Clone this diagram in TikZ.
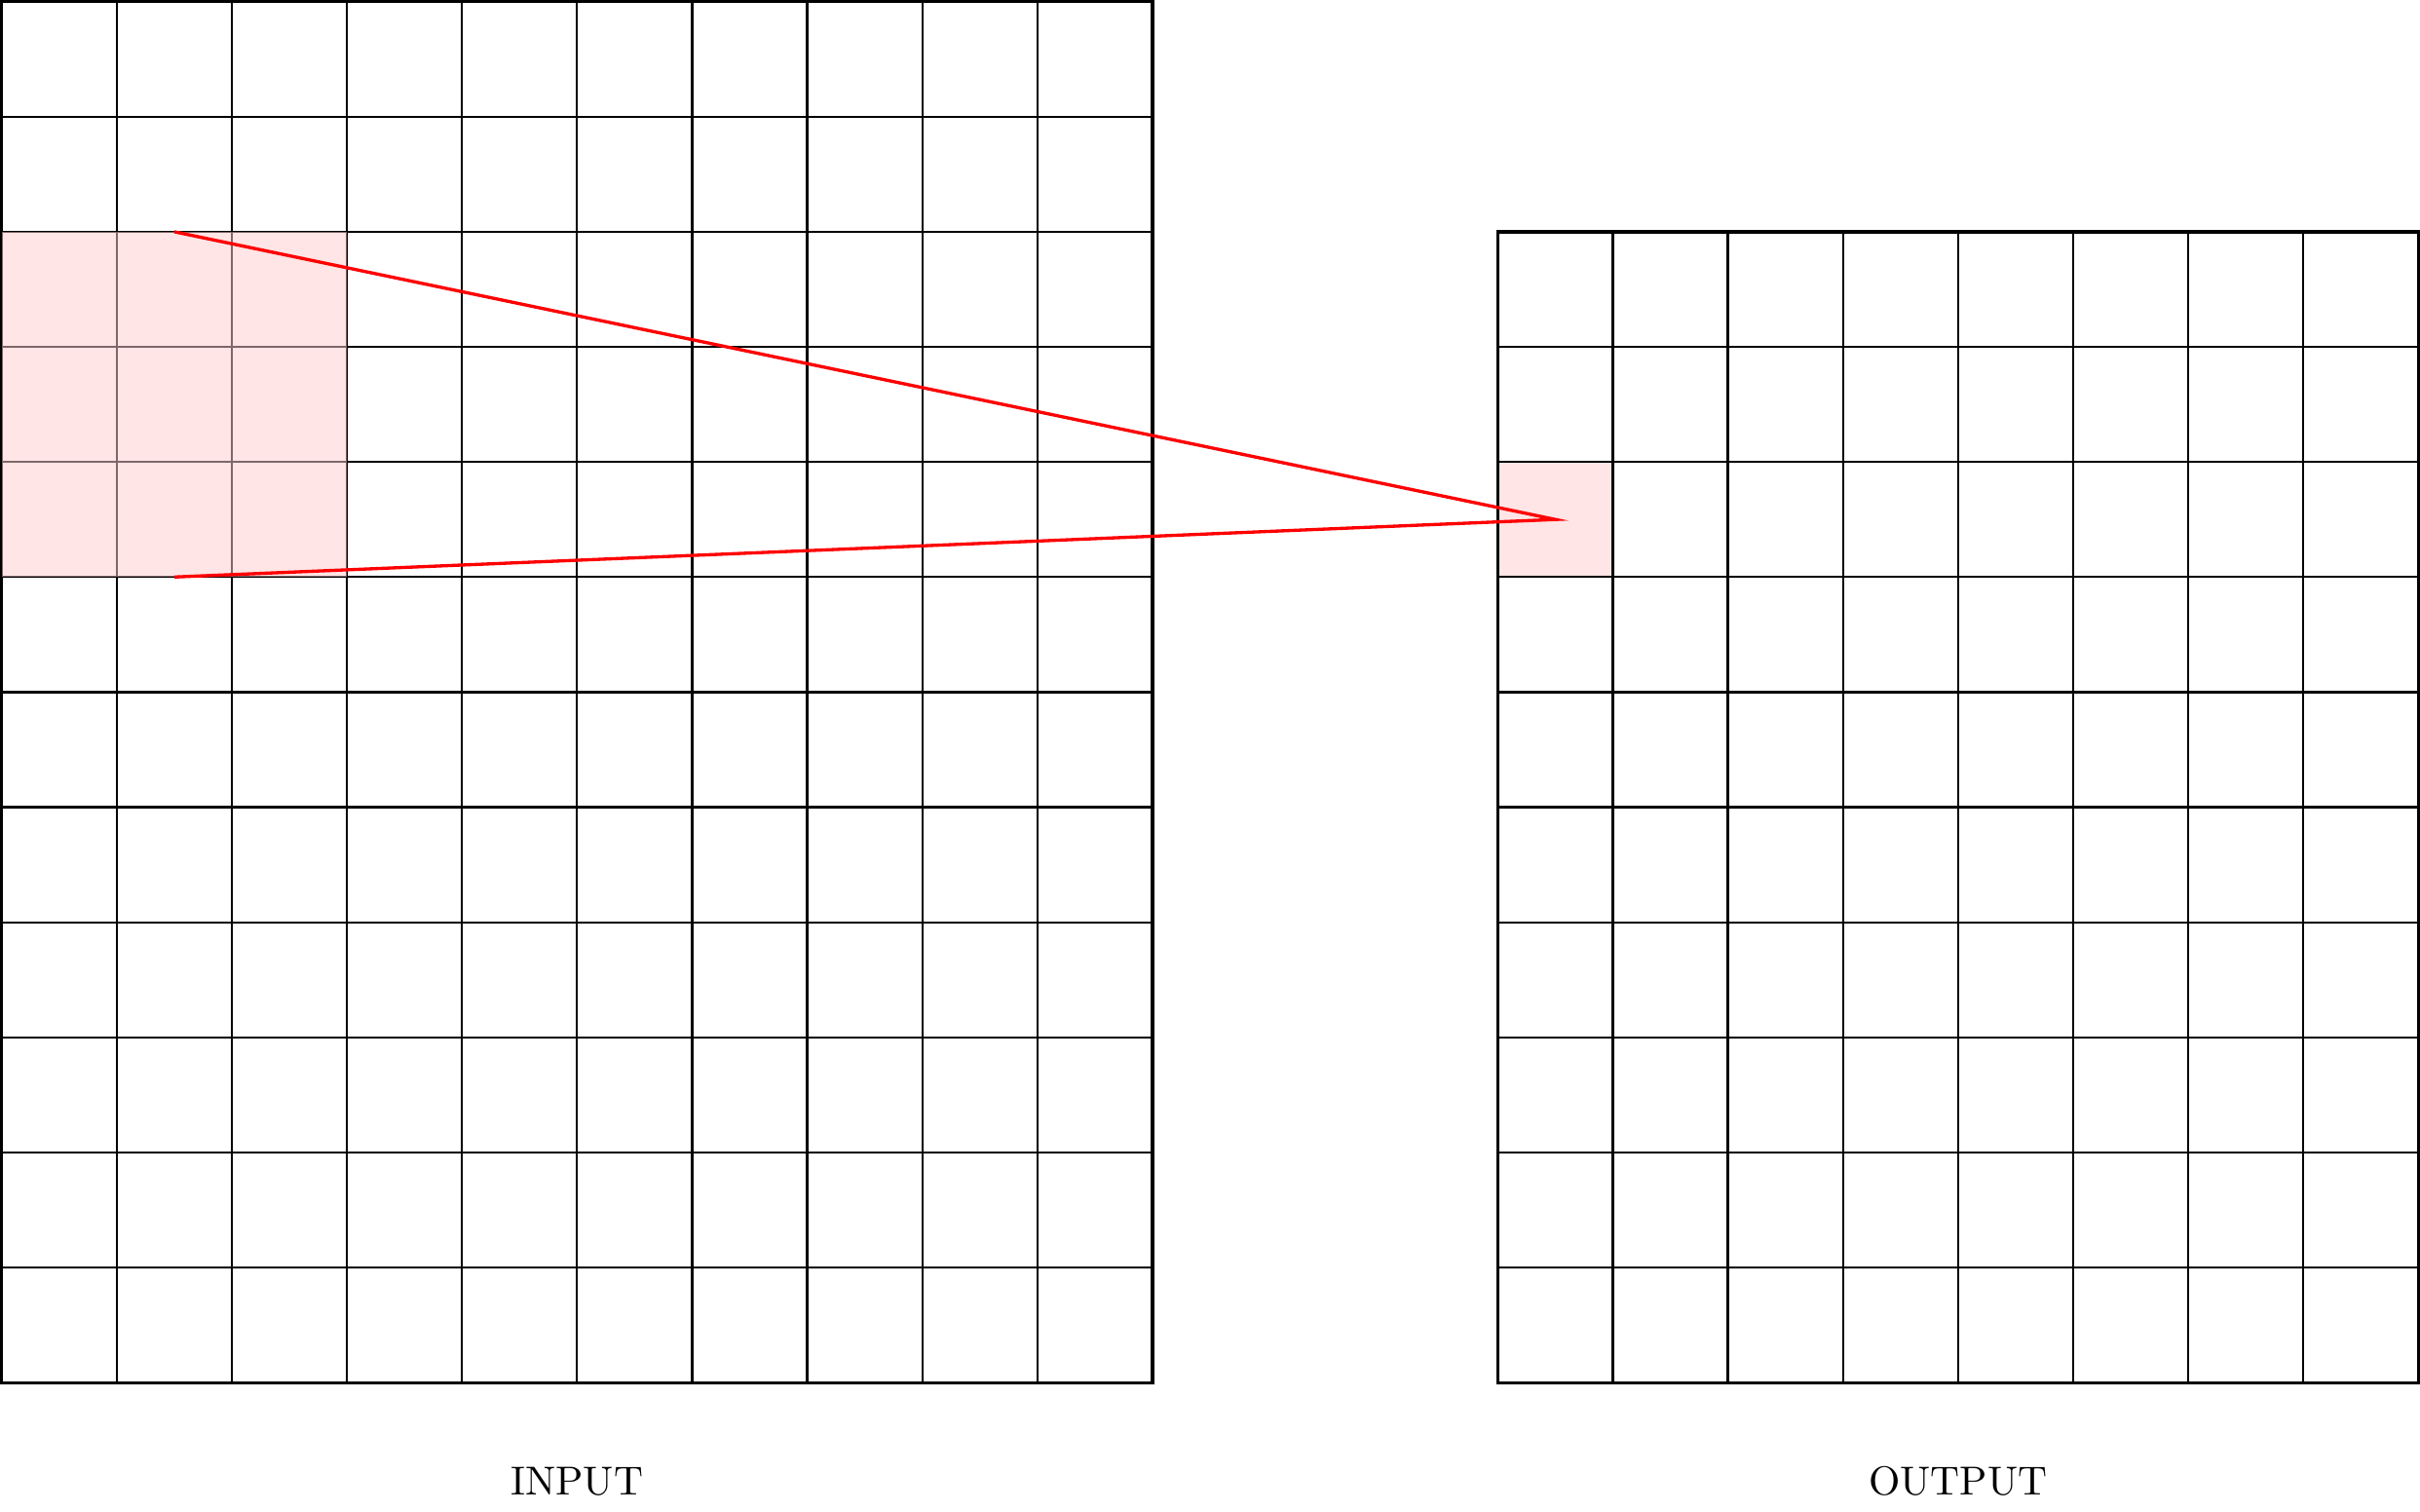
\documentclass[tikz,border=0pt]{standalone}
\usepackage{tikz}
\usetikzlibrary{positioning}
\tikzset{
  gridline/.style={black, line width=0.55pt},
  gridframe/.style={black, thick},
  patchfill/.style={fill=red!20, fill opacity=0.5},
  fieldline/.style={red, thick},
  caption/.style={anchor=base, inner sep=0pt}
}
\begin{document}
\begin{tikzpicture}[scale=1.0]
  \useasboundingbox (-0.014,-1.116) rectangle (21.014,12.014);
  % output cell (under the grid)
  \fill[red!10] (13,7) rectangle (14,8);
  % Input map: 10 x 12 cells
  \draw[gridline] (0,0) grid (10,12);
  \draw[gridframe] (0,0) rectangle (10,12);
  % Output map: 8 x 10 cells
  \draw[gridline] (13,0) grid (21,10);
  \draw[gridframe] (13,0) rectangle (21,10);
  % 3x3 receptive field (over the grid)
  \fill[patchfill] (0,7) rectangle (3,10);
  % corners of the field and the output centre
  \coordinate (rf_top) at (1.5,10);
  \coordinate (rf_bot) at (1.5,7);
  \coordinate (out_c)  at (13.5,7.5);
  \draw[fieldline] (rf_top) -- (out_c) -- (rf_bot);
  % labels
  \node[caption] (lbl_in)  at (5,-0.98)  {INPUT};
  \node[caption] (lbl_out) at (17,-0.98) {OUTPUT};
\end{tikzpicture}
\end{document}
